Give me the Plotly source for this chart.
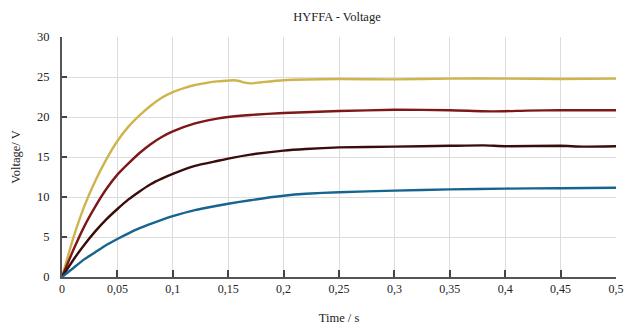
import plotly.graph_objects as go

t_yellow = [0, 0.01, 0.02, 0.03, 0.04, 0.05, 0.06, 0.07, 0.08, 0.09, 0.10, 0.11, 0.12, 0.13, 0.14, 0.15,
            0.155, 0.16, 0.165, 0.17, 0.18, 0.20, 0.25, 0.30, 0.35, 0.40, 0.45, 0.50]
v_yellow = [0, 4.8, 8.8, 12.0, 14.7, 17.0, 18.8, 20.2, 21.4, 22.4, 23.1, 23.6, 24.0, 24.25, 24.45, 24.55,
            24.6, 24.5, 24.3, 24.2, 24.35, 24.6, 24.75, 24.7, 24.8, 24.8, 24.75, 24.8]

t_red = [0, 0.01, 0.02, 0.03, 0.04, 0.05, 0.06, 0.07, 0.08, 0.09, 0.10, 0.12, 0.14, 0.15, 0.17, 0.20,
         0.25, 0.30, 0.35, 0.39, 0.42, 0.45, 0.50]
v_red = [0, 3.3, 6.3, 8.8, 11.0, 12.8, 14.2, 15.5, 16.6, 17.5, 18.2, 19.2, 19.8, 20.0, 20.25, 20.5,
         20.75, 20.9, 20.85, 20.7, 20.8, 20.85, 20.85]

t_dark = [0, 0.01, 0.02, 0.03, 0.04, 0.05, 0.06, 0.07, 0.08, 0.09, 0.10, 0.12, 0.14, 0.15, 0.17, 0.20,
          0.22, 0.25, 0.30, 0.35, 0.38, 0.40, 0.45, 0.47, 0.50]
v_dark = [0, 2.1, 4.0, 5.7, 7.2, 8.5, 9.7, 10.7, 11.6, 12.3, 12.9, 13.9, 14.5, 14.8, 15.3, 15.8,
          16.0, 16.2, 16.3, 16.4, 16.45, 16.35, 16.4, 16.3, 16.35]

t_blue = [0, 0.01, 0.02, 0.03, 0.04, 0.05, 0.06, 0.07, 0.08, 0.09, 0.10, 0.12, 0.14, 0.15, 0.17, 0.20,
          0.22, 0.25, 0.30, 0.35, 0.40, 0.45, 0.50]
v_blue = [0, 1.1, 2.2, 3.1, 4.0, 4.75, 5.45, 6.1, 6.65, 7.15, 7.6, 8.35, 8.9, 9.15, 9.6, 10.15,
          10.4, 10.6, 10.8, 10.95, 11.05, 11.1, 11.15]

series = [
    (t_yellow, v_yellow, "#cfb44e"),
    (t_red, v_red, "#7e1818"),
    (t_dark, v_dark, "#3a0c0c"),
    (t_blue, v_blue, "#16648f"),
]

FONT = "Liberation Serif, Times New Roman, serif"
fig = go.Figure()
for t, v, c in series:
    fig.add_trace(go.Scatter(x=t, y=v, mode="lines", line=dict(color=c, width=2.4, shape="spline", smoothing=0.5),
                             showlegend=False, hoverinfo="skip"))

fig.update_layout(
    width=624, height=327,
    margin=dict(l=62, r=8, t=37, b=50),
    paper_bgcolor="white", plot_bgcolor="white",
    separators=",.",
    font=dict(family=FONT, size=12, color="#222"),
    title=dict(text="HYFFA - Voltage", x=0.54, xanchor="center", y=0.948, yanchor="middle",
               font=dict(family=FONT, size=12.5, color="#222")),
    xaxis=dict(range=[0, 0.5], dtick=0.05, tick0=0, showgrid=True, gridcolor="#dcdcdc", gridwidth=1,
               showline=True, linecolor="#555", linewidth=2, ticks="inside", ticklen=7, tickcolor="#444",
               tickwidth=1.5, zeroline=False, automargin=False,
               tickfont=dict(family=FONT, size=12, color="#222"),
               title=dict(text="Time / s", font=dict(family=FONT, size=12.5, color="#222"), standoff=18)),
    yaxis=dict(range=[0, 30], dtick=5, showgrid=True, gridcolor="#dcdcdc", gridwidth=1,
               showline=True, linecolor="#555", linewidth=2, ticks="inside", ticklen=5, tickcolor="#444",
               tickwidth=1.5, zeroline=False, automargin=False,
               tickfont=dict(family=FONT, size=12.5, color="#222"),
               ticklabelstandoff=8,
               title=dict(text="Voltage/ V", font=dict(family=FONT, size=12.5, color="#222"), standoff=14)),
)
fig.write_html("out.html")
